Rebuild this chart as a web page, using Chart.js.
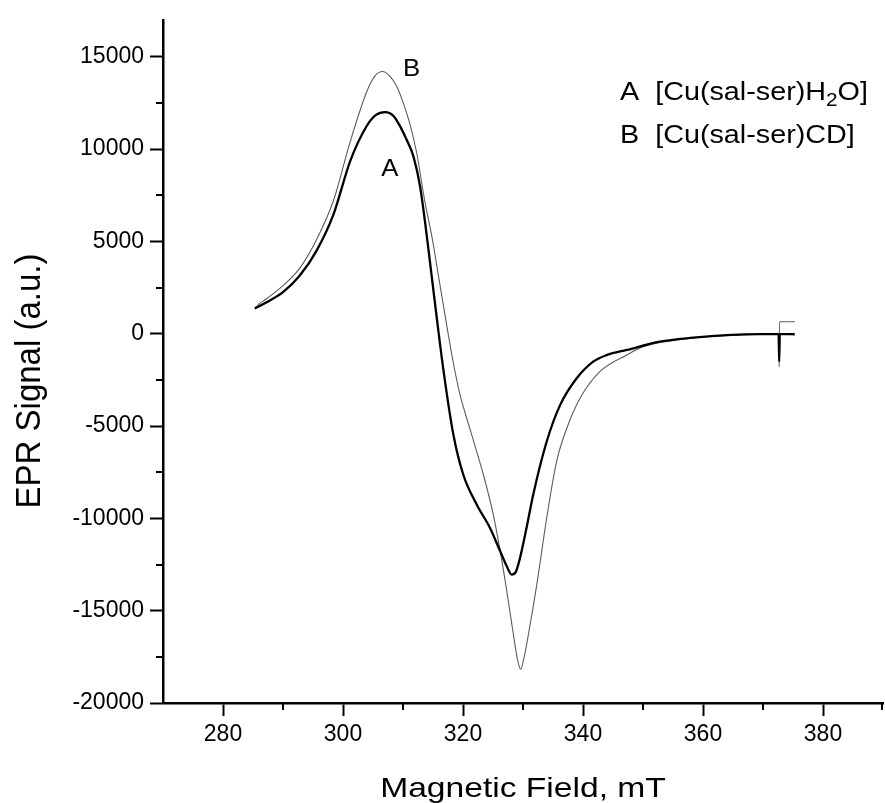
<!DOCTYPE html>
<html><head><meta charset="utf-8">
<script src="https://cdn.jsdelivr.net/npm/chart.js@4.4.1/dist/chart.umd.min.js"></script>
<style>html,body{margin:0;padding:0;background:#fff}</style>
</head><body>
<canvas id="c" width="885" height="803" style="width:885px;height:803px;display:block"></canvas>
<script>
// ---- data ----
const fieldA  = [285.3,287.5,290.0,292.8,295.6,298.4,301.2,303.95,305.5,307.0,308.4,309.5,310.6,311.72,312.83,313.95,315.3,316.7,318.4,320.05,322.3,324.5,326.2,327.3,328.1,328.8,329.5,330.6,331.7,333.95,336.2,338.95,341.7,344.0,347.3,352.8,358.4,363.95,369.5,372.6,372.7,372.8,375.3];
const signalA = [1370,1750,2250,3150,4500,6450,9350,11250,11850,12000,11800,11240,10500,9620,8010,5335,1730,-1875,-5475,-7640,-9260,-10520,-11780,-12600,-13045,-12900,-12145,-10500,-8720,-5840,-3855,-2415,-1515,-1150,-880,-430,-216,-72,-18,-20,-1500,-20,-30];
const fieldB  = [285.8,287.5,290.0,292.8,295.6,298.4,301.2,303.95,305.3,306.6,307.8,308.95,310.05,311.2,312.28,313.67,314.78,316.17,317.55,318.4,319.5,321.2,323.4,325.05,326.2,327.3,328.4,329.0,329.6,330.2,330.9,332.3,333.95,335.6,337.3,339.5,342.8,347.3,350.05,355.6,360.0,365.0,370.0,372.6,372.7,372.75,375.3];
const signalB = [1570,1950,2600,3550,5100,7200,10400,13100,13950,14200,13950,13400,12490,11300,9800,7110,5320,2630,-50,-1600,-3300,-5200,-7640,-9800,-11780,-13945,-16290,-17500,-18180,-17500,-16290,-13585,-9980,-6920,-5120,-3495,-2055,-1150,-700,-340,-180,-80,-30,-20,-1800,650,650];
const xMajorTicks = [280,300,320,340,360,380];
const xMinorTicks = [290,310,330,350,370,390];
const yMajorTicks = [-20000,-15000,-10000,-5000,0,5000,10000,15000];
const yMinorTicks = [-17500,-12500,-7500,-2500,2500,7500,12500];
const xRange = [270,390];
const yRange = [-20000,17000];
const xTitle = 'Magnetic Field, mT';
const yTitle = 'EPR Signal (a.u.)';
const curveLabels = [ {text:'A', x:307.8, y:8900}, {text:'B', x:311.45, y:14300} ];
const legendItems = [ {key:'A', pre:'[Cu(sal-ser)H', sub:'2', post:'O]'}, {key:'B', pre:'[Cu(sal-ser)CD]', sub:'', post:''} ];

const FONT = '"Liberation Sans", Arial, Helvetica, sans-serif';

const decorPlugin = {
  id: 'decor',
  afterDraw(chart) {
    const ctx = chart.ctx, xs = chart.scales.x, ys = chart.scales.y;
    ctx.save();
    ctx.strokeStyle = '#000'; ctx.lineWidth = 2;
    // minor ticks
    yMinorTicks.forEach(v => {
      const p = Math.round(ys.getPixelForValue(v));
      ctx.beginPath(); ctx.moveTo(xs.left - 7, p); ctx.lineTo(xs.left, p); ctx.stroke();
    });
    xMinorTicks.forEach(v => {
      const p = Math.round(xs.getPixelForValue(v)) - (v === xRange[1] ? 1 : 0);
      ctx.beginPath(); ctx.moveTo(p, ys.bottom); ctx.lineTo(p, ys.bottom + 7); ctx.stroke();
    });
    ctx.fillStyle = '#000';
    // axis titles
    ctx.textAlign = 'center'; ctx.textBaseline = 'alphabetic';
    ctx.save();
    ctx.translate((xs.left + xs.right) / 2, 797); ctx.scale(1.2, 1);
    ctx.font = '28px ' + FONT; ctx.fillText(xTitle, 0, 0);
    ctx.restore();
    ctx.save();
    ctx.translate(40, 381); ctx.rotate(-Math.PI / 2); ctx.scale(1, 1.09);
    ctx.font = '33px ' + FONT; ctx.fillText(yTitle, 0, 0);
    ctx.restore();
    // curve labels
    ctx.textBaseline = 'middle'; ctx.textAlign = 'center';
    ctx.font = '23px ' + FONT;
    curveLabels.forEach(l => {
      const px = xs.getPixelForValue(l.x), py = ys.getPixelForValue(l.y);
      ctx.save(); ctx.translate(px, py); ctx.scale(1.12, 1); ctx.fillText(l.text, 0, 0); ctx.restore();
    });
    // legend
    ctx.textAlign = 'left'; ctx.textBaseline = 'alphabetic';
    const lx = 620, ly0 = 100, dy = 43.3;
    legendItems.forEach((it, i) => {
      ctx.save(); ctx.translate(lx, ly0 + i * dy); ctx.scale(1.15, 1);
      ctx.font = '25px ' + FONT;
      let x = 0;
      ctx.fillText(it.key, x, 0); x += ctx.measureText(it.key + '  ').width;
      ctx.fillText(it.pre, x, 0); x += ctx.measureText(it.pre).width;
      if (it.sub) {
        ctx.font = '18px ' + FONT; ctx.fillText(it.sub, x, 6); x += ctx.measureText(it.sub).width;
        ctx.font = '25px ' + FONT;
      }
      if (it.post) ctx.fillText(it.post, x, 0);
      ctx.restore();
    });
    ctx.restore();
  }
};

new Chart(document.getElementById('c'), {
  type: 'line',
  data: {
    datasets: [
      { label: 'A', data: fieldA.map((x,i)=>({x, y: signalA[i]})), borderColor: '#000', borderWidth: 2.3, pointRadius: 0, cubicInterpolationMode: 'monotone', fill: false },
      { label: 'B', data: fieldB.map((x,i)=>({x, y: signalB[i]})), borderColor: '#5c5c5c', borderWidth: 1.1, pointRadius: 0, cubicInterpolationMode: 'monotone', fill: false }
    ]
  },
  options: {
    responsive: false, animation: false, devicePixelRatio: 1,
    layout: { padding: { top: 17, right: 2, left: 0, bottom: 0 } },
    plugins: { legend: { display: false }, tooltip: { enabled: false } },
    scales: {
      x: {
        type: 'linear', min: xRange[0], max: xRange[1],
        afterBuildTicks: s => { s.ticks = xMajorTicks.map(v => ({ value: v })); },
        afterFit: s => { s.height = 100; },
        grid: { drawOnChartArea: false, drawTicks: true, tickLength: 13, tickWidth: 2, tickColor: '#000' },
        border: { display: true, color: '#000', width: 2.5 },
        ticks: { color: '#000', font: { family: FONT, size: 23 }, padding: 5, maxRotation: 0 },
        title: { display: false }
      },
      y: {
        type: 'linear', min: yRange[0], max: yRange[1],
        afterBuildTicks: s => { s.ticks = yMajorTicks.map(v => ({ value: v })); },
        afterFit: s => { s.width = 163; },
        grid: { drawOnChartArea: false, drawTicks: true, tickLength: 13, tickWidth: 2, tickColor: '#000' },
        border: { display: true, color: '#000', width: 2.5 },
        ticks: { color: '#000', font: { family: FONT, size: 23 }, padding: 6, callback: v => String(v) },
        title: { display: false }
      }
    }
  },
  plugins: [decorPlugin]
});
</script>
</body></html>
